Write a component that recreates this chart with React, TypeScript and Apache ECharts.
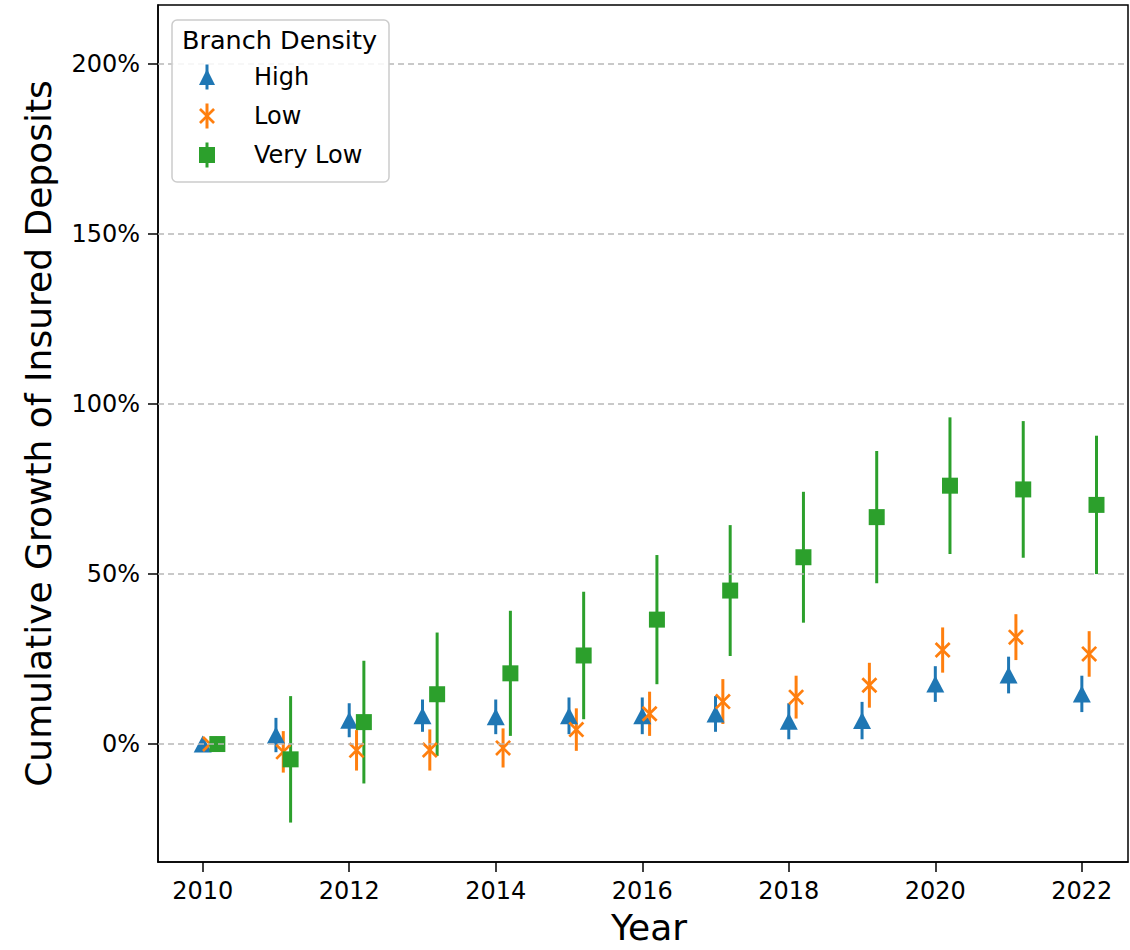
import React, { useEffect, useRef } from "react";
import * as echarts from "echarts";

const years = [2010, 2011, 2012, 2013, 2014, 2015, 2016, 2017, 2018, 2019, 2020, 2021, 2022];
const highValues = [0, 2.65, 7, 8.35, 8, 8.3, 8.3, 8.85, 6.7, 6.9, 17.65, 20.3, 14.75];
const highErrors = [0, 5.05, 5, 4.75, 5.1, 5.4, 5.4, 5.25, 5.3, 5.5, 5.25, 5.4, 5.35];
const lowValues = [0, -2.3, -1.85, -1.75, -1.15, 4.25, 8.9, 12.5, 13.8, 17.3, 27.65, 31.45, 26.5];
const lowErrors = [0, 6.1, 5.95, 6.05, 5.75, 6.25, 6.5, 6.6, 6.3, 6.6, 6.65, 6.75, 6.7];
const veryLowValues = [0, -4.5, 6.45, 14.65, 20.8, 26.05, 36.6, 45.15, 54.95, 66.75, 76, 74.9, 70.35];
const veryLowErrors = [0, 18.6, 18.05, 18.15, 18.4, 18.75, 19, 19.25, 19.25, 19.45, 20.1, 20.1, 20.35];
const xTicks = [2010, 2012, 2014, 2016, 2018, 2020, 2022];
const yTicks = [0, 50, 100, 150, 200];
const groupNames = ["High", "Low", "Very Low"];
const groupOffsets = [0, 0.1, 0.2];

const FONT = "DejaVu Sans";
const COLORS = ["#1f77b4", "#ff7f0e", "#2ca02c"];
const X_PATH = "path://M0,12L12,0L50,38L88,0L100,12L62,50L100,88L88,100L50,62L12,100L0,88L38,50Z";
const SYMBOLS = ["triangle", X_PATH, "rect"];
const SIZES: any[] = [[18, 17], 16, 16];

export default function App() {
  const ref = useRef<HTMLDivElement>(null);
  useEffect(() => {
    if (!ref.current) return;
    const chart = echarts.init(ref.current, undefined, { renderer: "svg" });
    const valueSets = [highValues, lowValues, veryLowValues];
    const errorSets = [highErrors, lowErrors, veryLowErrors];
    const series: any[] = [
      {
        name: "grid",
        type: "scatter",
        data: [],
        z: 1,
        silent: true,
        markLine: {
          silent: true,
          symbol: "none",
          label: { show: false },
          lineStyle: { color: "#b8b8b8", type: [6, 4], width: 1.5 },
          data: yTicks.map((t) => ({ yAxis: t })),
        },
      },
    ];
    groupNames.forEach((name, gi) => {
      const xs = years.map((y) => y + groupOffsets[gi]);
      series.push({
        name: name + " error",
        type: "custom",
        z: 2,
        silent: true,
        encode: { x: 0, y: 1 },
        data: xs.map((x, i) => [x, valueSets[gi][i], errorSets[gi][i]]),
        renderItem: (params: any, api: any) => {
          const x = api.value(0);
          const v = api.value(1);
          const e = api.value(2);
          if (!e) return { type: "group", children: [] };
          const p1 = api.coord([x, v - e]);
          const p2 = api.coord([x, v + e]);
          return {
            type: "line",
            shape: { x1: p1[0], y1: p1[1], x2: p2[0], y2: p2[1] },
            style: { stroke: COLORS[gi], lineWidth: 3 },
          };
        },
      });
      series.push({
        name,
        type: "scatter",
        z: 2,
        symbol: SYMBOLS[gi],
        symbolSize: SIZES[gi],
        itemStyle: { color: COLORS[gi], opacity: 1 },
        data: xs.map((x, i) => [x, valueSets[gi][i]]),
      });
    });

    const legendRows = [77, 116, 155];
    chart.setOption({
      animation: false,
      grid: {
        left: 158,
        right: 2,
        top: 5,
        bottom: 88,
        show: true,
        borderColor: "#000",
        borderWidth: 1.5,
        backgroundColor: "transparent",
      },
      xAxis: {
        type: "value",
        min: 2009.39,
        max: 2022.63,
        name: "Year",
        nameLocation: "middle",
        nameGap: 47,
        nameTextStyle: { fontSize: 36, fontFamily: FONT, color: "#000", padding: [0, 0, 0, 12] },
        axisLine: { show: true, onZero: false, lineStyle: { color: "#000", width: 1.5 } },
        axisTick: { show: true, length: 10, lineStyle: { color: "#000", width: 1.5 }, customValues: xTicks },
        axisLabel: {
          fontSize: 24,
          fontFamily: FONT,
          color: "#000",
          margin: 17,
          customValues: xTicks,
          formatter: (v: number) => String(Math.round(v)),
        },
        splitLine: { show: false },
      },
      yAxis: {
        type: "value",
        min: -34.7,
        max: 217.4,
        name: "Cumulative Growth of Insured Deposits",
        nameLocation: "middle",
        nameGap: 102,
        nameTextStyle: { fontSize: 36, fontFamily: FONT, color: "#000" },
        axisLine: { show: true, onZero: false, lineStyle: { color: "#000", width: 1.5 } },
        axisTick: { show: true, length: 10, lineStyle: { color: "#000", width: 1.5 }, customValues: yTicks },
        axisLabel: {
          fontSize: 24,
          fontFamily: FONT,
          color: "#000",
          margin: 18,
          customValues: yTicks,
          formatter: (v: number) => Math.round(v) + "%",
        },
        splitLine: { show: false },
      },
      legend: {
        z: 20,
        orient: "vertical",
        left: 199,
        top: 65,
        padding: 0,
        itemWidth: 16,
        itemHeight: 16,
        itemGap: 15,
        selectedMode: false,
        textStyle: { fontSize: 24, fontFamily: FONT, color: "#000", lineHeight: 24, padding: [0, 0, 0, 34] },
        data: groupNames.map((n, i) => ({ name: n, icon: SYMBOLS[i] })),
      },
      graphic: [
        {
          type: "rect",
          z: 10,
          shape: { x: 172, y: 20, width: 217, height: 162, r: 5 },
          style: { fill: "rgba(255,255,255,0.85)", stroke: "#cccccc", lineWidth: 1.5 },
        },
        {
          type: "text",
          z: 11,
          x: 182,
          y: 27,
          style: { text: "Branch Density", fontSize: 25.5, fontFamily: FONT, fill: "#000" },
        },
        ...legendRows.map((cy, i) => ({
          type: "line",
          z: 11,
          shape: { x1: 207, y1: cy - 12.5, x2: 207, y2: cy + 12.5 },
          style: { stroke: COLORS[i], lineWidth: 3 },
        })),
      ],
      series,
    });
    return () => chart.dispose();
  }, []);
  return (
    <div
      ref={ref}
      style={{ position: "absolute", left: 0, top: 0, width: 1130, height: 950, background: "#fff" }}
    />
  );
}
